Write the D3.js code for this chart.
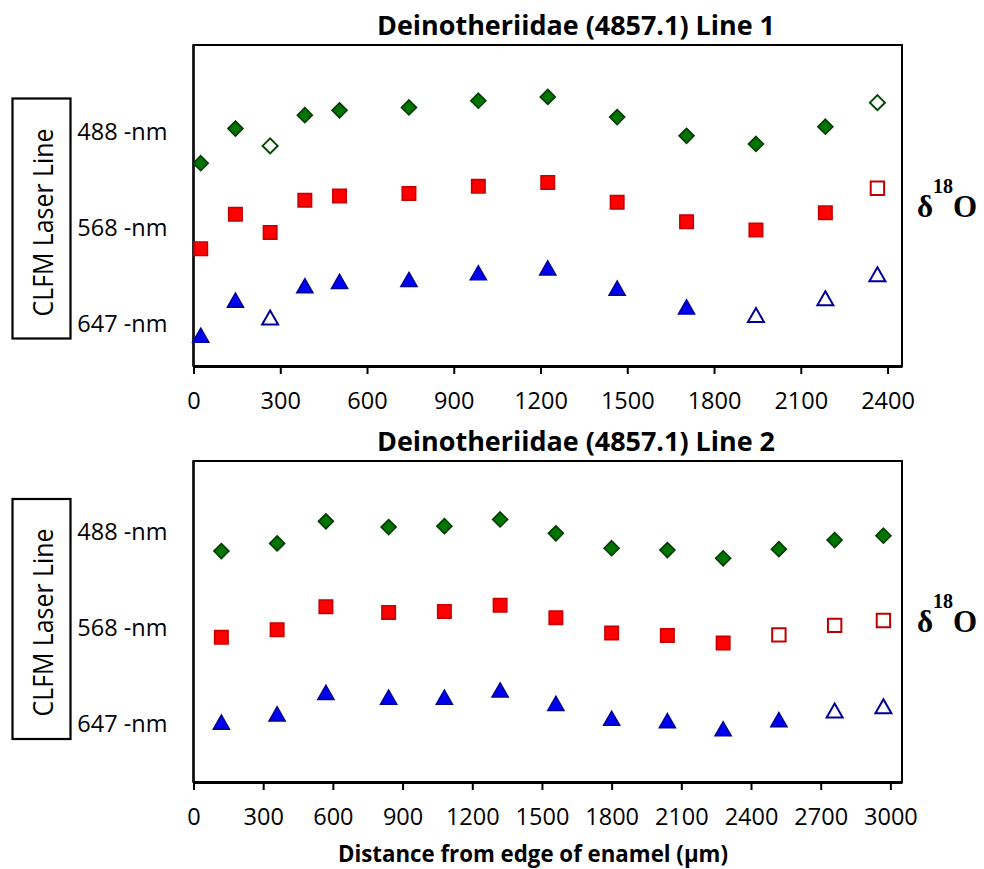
<!DOCTYPE html>
<html><head><meta charset="utf-8">
<script src="https://cdn.jsdelivr.net/npm/d3@7/dist/d3.min.js"></script>
<style>body{margin:0;background:#fff} svg{display:block}</style>
</head><body>
<svg id="chart" width="984" height="869"></svg>
<script>
// ---------------- DATA ----------------
const titleLine1 = "Deinotheriidae (4857.1) Line 1";
const titleLine2 = "Deinotheriidae (4857.1) Line 2";
const yAxisTitle = "CLFM Laser Line";
const xAxisTitle = "Distance from edge of enamel (\u00b5m)";
const laserLabels = ["647 -nm", "568 -nm", "488 -nm"];   // bands at 0, 1, 2
const laserBands = [0, 1, 2];
const xTicksLine1 = [0, 300, 600, 900, 1200, 1500, 1800, 2100, 2400];
const xTicksLine2 = [0, 300, 600, 900, 1200, 1500, 1800, 2100, 2400, 2700, 3000];

// Line 1 (distance in µm, relative band position of each δ18O value)
const line1Distance = [25, 145, 265, 385, 505, 745, 985, 1225, 1465, 1705, 1945, 2185, 2365];
const line1Nm488 = [1.66, 2.02, 1.84, 2.16, 2.21, 2.24, 2.31, 2.35, 2.14, 1.945, 1.86, 2.04, 2.29];
const line1Nm568 = [0.77, 1.13, 0.94, 1.275, 1.32, 1.345, 1.42, 1.46, 1.255, 1.05, 0.965, 1.145, 1.40];
const line1Nm647 = [-0.13, 0.235, 0.055, 0.385, 0.43, 0.45, 0.52, 0.57, 0.36, 0.165, 0.08, 0.255, 0.505];
const line1Hollow488 = [0, 0, 1, 0, 0, 0, 0, 0, 0, 0, 0, 0, 1];
const line1Hollow568 = [0, 0, 0, 0, 0, 0, 0, 0, 0, 0, 0, 0, 1];
const line1Hollow647 = [0, 0, 1, 0, 0, 0, 0, 0, 0, 0, 1, 1, 1];

// Line 2
const line2Distance = [120, 360, 570, 840, 1080, 1320, 1560, 1800, 2040, 2280, 2520, 2760, 2970];
const line2Nm488 = [1.79, 1.87, 2.10, 2.04, 2.05, 2.12, 1.975, 1.82, 1.80, 1.715, 1.81, 1.905, 1.95];
const line2Nm568 = [0.89, 0.97, 1.21, 1.15, 1.16, 1.225, 1.095, 0.935, 0.91, 0.83, 0.915, 1.015, 1.065];
const line2Nm647 = [0.005, 0.09, 0.315, 0.265, 0.265, 0.34, 0.20, 0.045, 0.02, -0.065, 0.03, 0.125, 0.17];
const line2Hollow488 = [0, 0, 0, 0, 0, 0, 0, 0, 0, 0, 0, 0, 0];
const line2Hollow568 = [0, 0, 0, 0, 0, 0, 0, 0, 0, 0, 1, 1, 1];
const line2Hollow647 = [0, 0, 0, 0, 0, 0, 0, 0, 0, 0, 0, 1, 1];

const line1XDomain = [0, 2450], line1YDomain = [-0.45, 2.89];
const line2XDomain = [0, 3050], line2YDomain = [-0.62, 2.73];

// ---------------- LAYOUT / STYLE ----------------
const svg = d3.select("#chart");
const SANS = "'Open Sans', 'Noto Sans', sans-serif";
const SERIF = "'Liberation Serif', 'DejaVu Serif', serif";

const panels = [
  { title: titleLine1, dist: line1Distance, xDomain: line1XDomain, yDomain: line1YDomain, xTicks: xTicksLine1,
    series: [
      { v: line1Nm488, hollow: line1Hollow488, shape: "diamond" },
      { v: line1Nm568, hollow: line1Hollow568, shape: "square" },
      { v: line1Nm647, hollow: line1Hollow647, shape: "triangle" } ],
    top: 45, bottom: 366, titleY: 35, box: [12.5, 98.5, 58, 240], boxTextY: 222.5, deltaY: 217 },
  { title: titleLine2, dist: line2Distance, xDomain: line2XDomain, yDomain: line2YDomain, xTicks: xTicksLine2,
    series: [
      { v: line2Nm488, hollow: line2Hollow488, shape: "diamond" },
      { v: line2Nm568, hollow: line2Hollow568, shape: "square" },
      { v: line2Nm647, hollow: line2Hollow647, shape: "triangle" } ],
    top: 461, bottom: 782, titleY: 451, box: [12.5, 499, 58, 240], boxTextY: 622.5, deltaY: 632 }
];
const LEFT = 193.5, RIGHT = 902;

const style = {
  diamond:  { fill: "#007400", stroke: "#003c00", hollowStroke: "#004a00" },
  square:   { fill: "#ff0000", stroke: "#c80000", hollowStroke: "#c00000" },
  triangle: { fill: "#0000f0", stroke: "#00009a", hollowStroke: "#000099" }
};
const shapePath = {
  diamond:  "M0,-7.5L7.5,0L0,7.5L-7.5,0Z",
  square:   "M-6.7,-6.7H6.7V6.7H-6.7Z",
  triangle: "M0,-7L8,7L-8,7Z"
};

function fit(sel, w) {
  const L = sel.node().getComputedTextLength();
  if (Math.abs(L - w) > 1) sel.attr("textLength", w).attr("lengthAdjust", "spacingAndGlyphs");
}

panels.forEach(p => {
  const x = d3.scaleLinear().domain(p.xDomain).range([LEFT, RIGHT]);
  const y = d3.scaleLinear().domain(p.yDomain).range([p.bottom, p.top]);
  const g = svg.append("g");

  // frame
  g.append("rect").attr("x", LEFT).attr("y", p.top).attr("width", RIGHT - LEFT).attr("height", p.bottom - p.top)
    .attr("fill", "none").attr("stroke", "#000").attr("stroke-width", 2);
  g.append("line").attr("x1", LEFT).attr("x2", LEFT).attr("y1", p.top).attr("y2", p.bottom)
    .attr("stroke", "#111").attr("stroke-width", 2.5);

  // x axis
  const xa = g.append("g").attr("transform", `translate(0,${p.bottom})`)
    .call(d3.axisBottom(x).tickValues(p.xTicks).tickSize(8).tickSizeOuter(0).tickFormat(d3.format("d")));
  xa.select(".domain").attr("stroke", "#000").attr("stroke-width", 3);
  xa.selectAll(".tick line").attr("stroke", "#000").attr("stroke-width", 2);
  xa.selectAll(".tick text").attr("y", 35).attr("dy", "0.36em")
    .style("font-family", SANS).style("font-size", "23.5px").attr("fill", "#000");

  // y axis (band labels)
  const ya = g.append("g").attr("transform", `translate(${LEFT},0)`)
    .call(d3.axisLeft(y).tickValues(laserBands).tickSize(0).tickPadding(26)
      .tickFormat((d, i) => laserLabels[i]));
  ya.select(".domain").remove();
  ya.selectAll(".tick text").style("font-family", SANS).style("font-size", "23.5px").attr("fill", "#000").attr("dy", "0.36em");

  // title
  const t = g.append("text").attr("x", 576).attr("y", p.titleY).attr("text-anchor", "middle")
    .style("font-family", SANS).style("font-size", "26px").style("font-weight", "bold").text(p.title);
  fit(t, 398);

  // CLFM box
  g.append("rect").attr("x", p.box[0]).attr("y", p.box[1]).attr("width", p.box[2]).attr("height", p.box[3])
    .attr("fill", "none").attr("stroke", "#000").attr("stroke-width", 2.2);
  const bt = g.append("text").attr("transform", `translate(42.5,${p.boxTextY}) rotate(-90)`)
    .attr("text-anchor", "middle").attr("dy", "0.36em")
    .style("font-family", SANS).style("font-size", "28px").text(yAxisTitle);
  fit(bt, 188);

  // delta 18 O
  const dt = g.append("text").attr("x", 917).attr("y", p.deltaY)
    .style("font-family", SERIF).style("font-weight", "bold").style("font-size", "31px");
  dt.append("tspan").text("\u03b4");
  dt.append("tspan").attr("dy", -24).style("font-size", "20px").text("18");
  dt.append("tspan").attr("dy", 24).text("O");

  // markers
  p.series.forEach(s => {
    const st = style[s.shape];
    g.append("g").selectAll("path").data(p.dist.map((d, i) => ({ x: d, v: s.v[i], h: s.hollow[i] })))
      .join("path")
      .attr("transform", d => `translate(${x(d.x)},${y(d.v)})`)
      .attr("d", shapePath[s.shape])
      .attr("fill", d => d.h ? "#fff" : st.fill)
      .attr("stroke", d => d.h ? st.hollowStroke : st.stroke)
      .attr("stroke-width", d => d.h ? 2 : 1.6)
      .attr("stroke-linejoin", "miter");
  });
});

// x axis title
const xt = svg.append("text").attr("x", 533).attr("y", 862).attr("text-anchor", "middle")
  .style("font-family", SANS).style("font-size", "23px").style("font-weight", "bold").text(xAxisTitle);
fit(xt, 390);
</script></body></html>
